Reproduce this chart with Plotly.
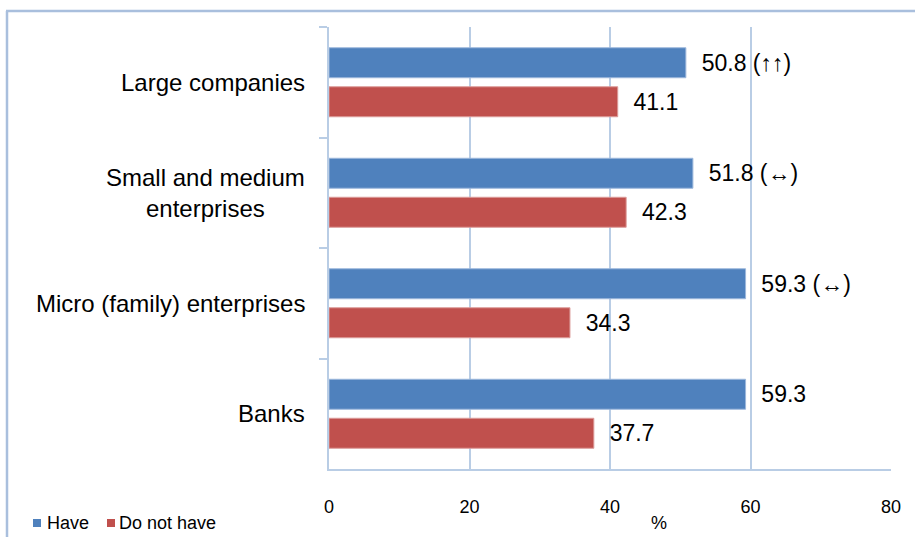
import plotly.graph_objects as go

categories = ["Large companies", "Small and medium<br>enterprises", "Micro (family) enterprises", "Banks"]
have = [50.8, 51.8, 59.3, 59.3]
have_trend = ["(↑↑)", "(↔)", "(↔)", ""]
not_have = [41.1, 42.3, 34.3, 37.7]
series_names = ["Have", "Do not have"]
x_ticks = [0, 20, 40, 60, 80]

BLUE = "#4f81bd"
RED = "#c0504d"
GRID = "#b9cde5"
FRAME = "#a9bfdd"
FONT = "Liberation Sans, Arial, sans-serif"
SMALL = "Liberation Sans, Arial, sans-serif"

W, H = 915, 537
L, R, T, B = 329, 24, 27, 68
PW, PH = W - L - R, H - T - B


def px(x):
    return (x - L) / PW


def py(y):
    return (H - B - y) / PH


def lab(v, t=""):
    s = f"{v:.1f}"
    if t:
        s += " " + t
    return "\u00a0\u00a0" + s


fig = go.Figure()
fig.add_trace(go.Bar(
    y=categories, x=have, orientation="h", name=series_names[0],
    marker=dict(color=BLUE, line=dict(color="#9db8dc", width=1)),
    text=[lab(v, t) for v, t in zip(have, have_trend)],
    textposition="outside", cliponaxis=False,
    textfont=dict(family=FONT, size=23, color="#000000"),
    hoverinfo="skip",
))
fig.add_trace(go.Bar(
    y=categories, x=not_have, orientation="h", name=series_names[1],
    marker=dict(color=RED, line=dict(color="#dc9c9a", width=1)),
    text=[lab(v) for v in not_have],
    textposition="outside", cliponaxis=False,
    textfont=dict(family=FONT, size=23, color="#000000"),
    hoverinfo="skip",
))

for c in categories:
    fig.add_annotation(
        x=px(307), xref="paper", y=c, yref="y", text=c,
        xanchor="right", yanchor="middle", align="center",
        showarrow=False, font=dict(family=FONT, size=24, color="#000000"),
    )

fig.add_annotation(
    x=px(659), xref="paper", y=py(523), yref="paper", text="%",
    xanchor="center", yanchor="middle", showarrow=False,
    font=dict(family=SMALL, size=18, color="#000000"),
)

legend_items = [(series_names[0], BLUE, 33, 45), (series_names[1], RED, 107, 117)]
for name, col, sx, tx in legend_items:
    fig.add_shape(type="rect", xref="paper", yref="paper",
                  x0=px(sx), x1=px(sx + 8), y0=py(527), y1=py(519),
                  fillcolor=col, line=dict(width=0))
    fig.add_annotation(x=px(tx), xref="paper", y=py(523), yref="paper", text=name,
                       xanchor="left", yanchor="middle", showarrow=False,
                       font=dict(family=SMALL, size=18, color="#000000"))

# outer frame: top edge and left edge
fig.add_shape(type="line", xref="paper", yref="paper",
              x0=px(6), x1=px(915), y0=py(11), y1=py(11),
              line=dict(color=FRAME, width=2.5))
fig.add_shape(type="line", xref="paper", yref="paper",
              x0=px(7), x1=px(7), y0=py(537), y1=py(11),
              line=dict(color=FRAME, width=2.5))

fig.update_layout(
    width=W, height=H,
    margin=dict(l=L, r=R, t=T, b=B, pad=0, autoexpand=False),
    paper_bgcolor="white", plot_bgcolor="white",
    barmode="group", bargap=0.294, bargroupgap=0.231,
    font=dict(family=FONT, color="#000000"),
    showlegend=False,
    xaxis=dict(range=[0, 80], tickvals=x_ticks, ticktext=[str(v) for v in x_ticks],
               showgrid=True, gridcolor=GRID, gridwidth=2,
               showline=True, linecolor=GRID, linewidth=2,
               ticks="", zeroline=False, ticklabelstandoff=20,
               tickfont=dict(family=SMALL, size=18, color="#000000"), fixedrange=True),
    yaxis=dict(autorange="reversed", showticklabels=False, showgrid=False,
               showline=True, linecolor=GRID, linewidth=2,
               ticks="outside", ticklen=8, tickcolor=GRID, tickwidth=2,
               tickson="boundaries", fixedrange=True),
)

fig.write_html("out.html", config={"displayModeBar": False})
